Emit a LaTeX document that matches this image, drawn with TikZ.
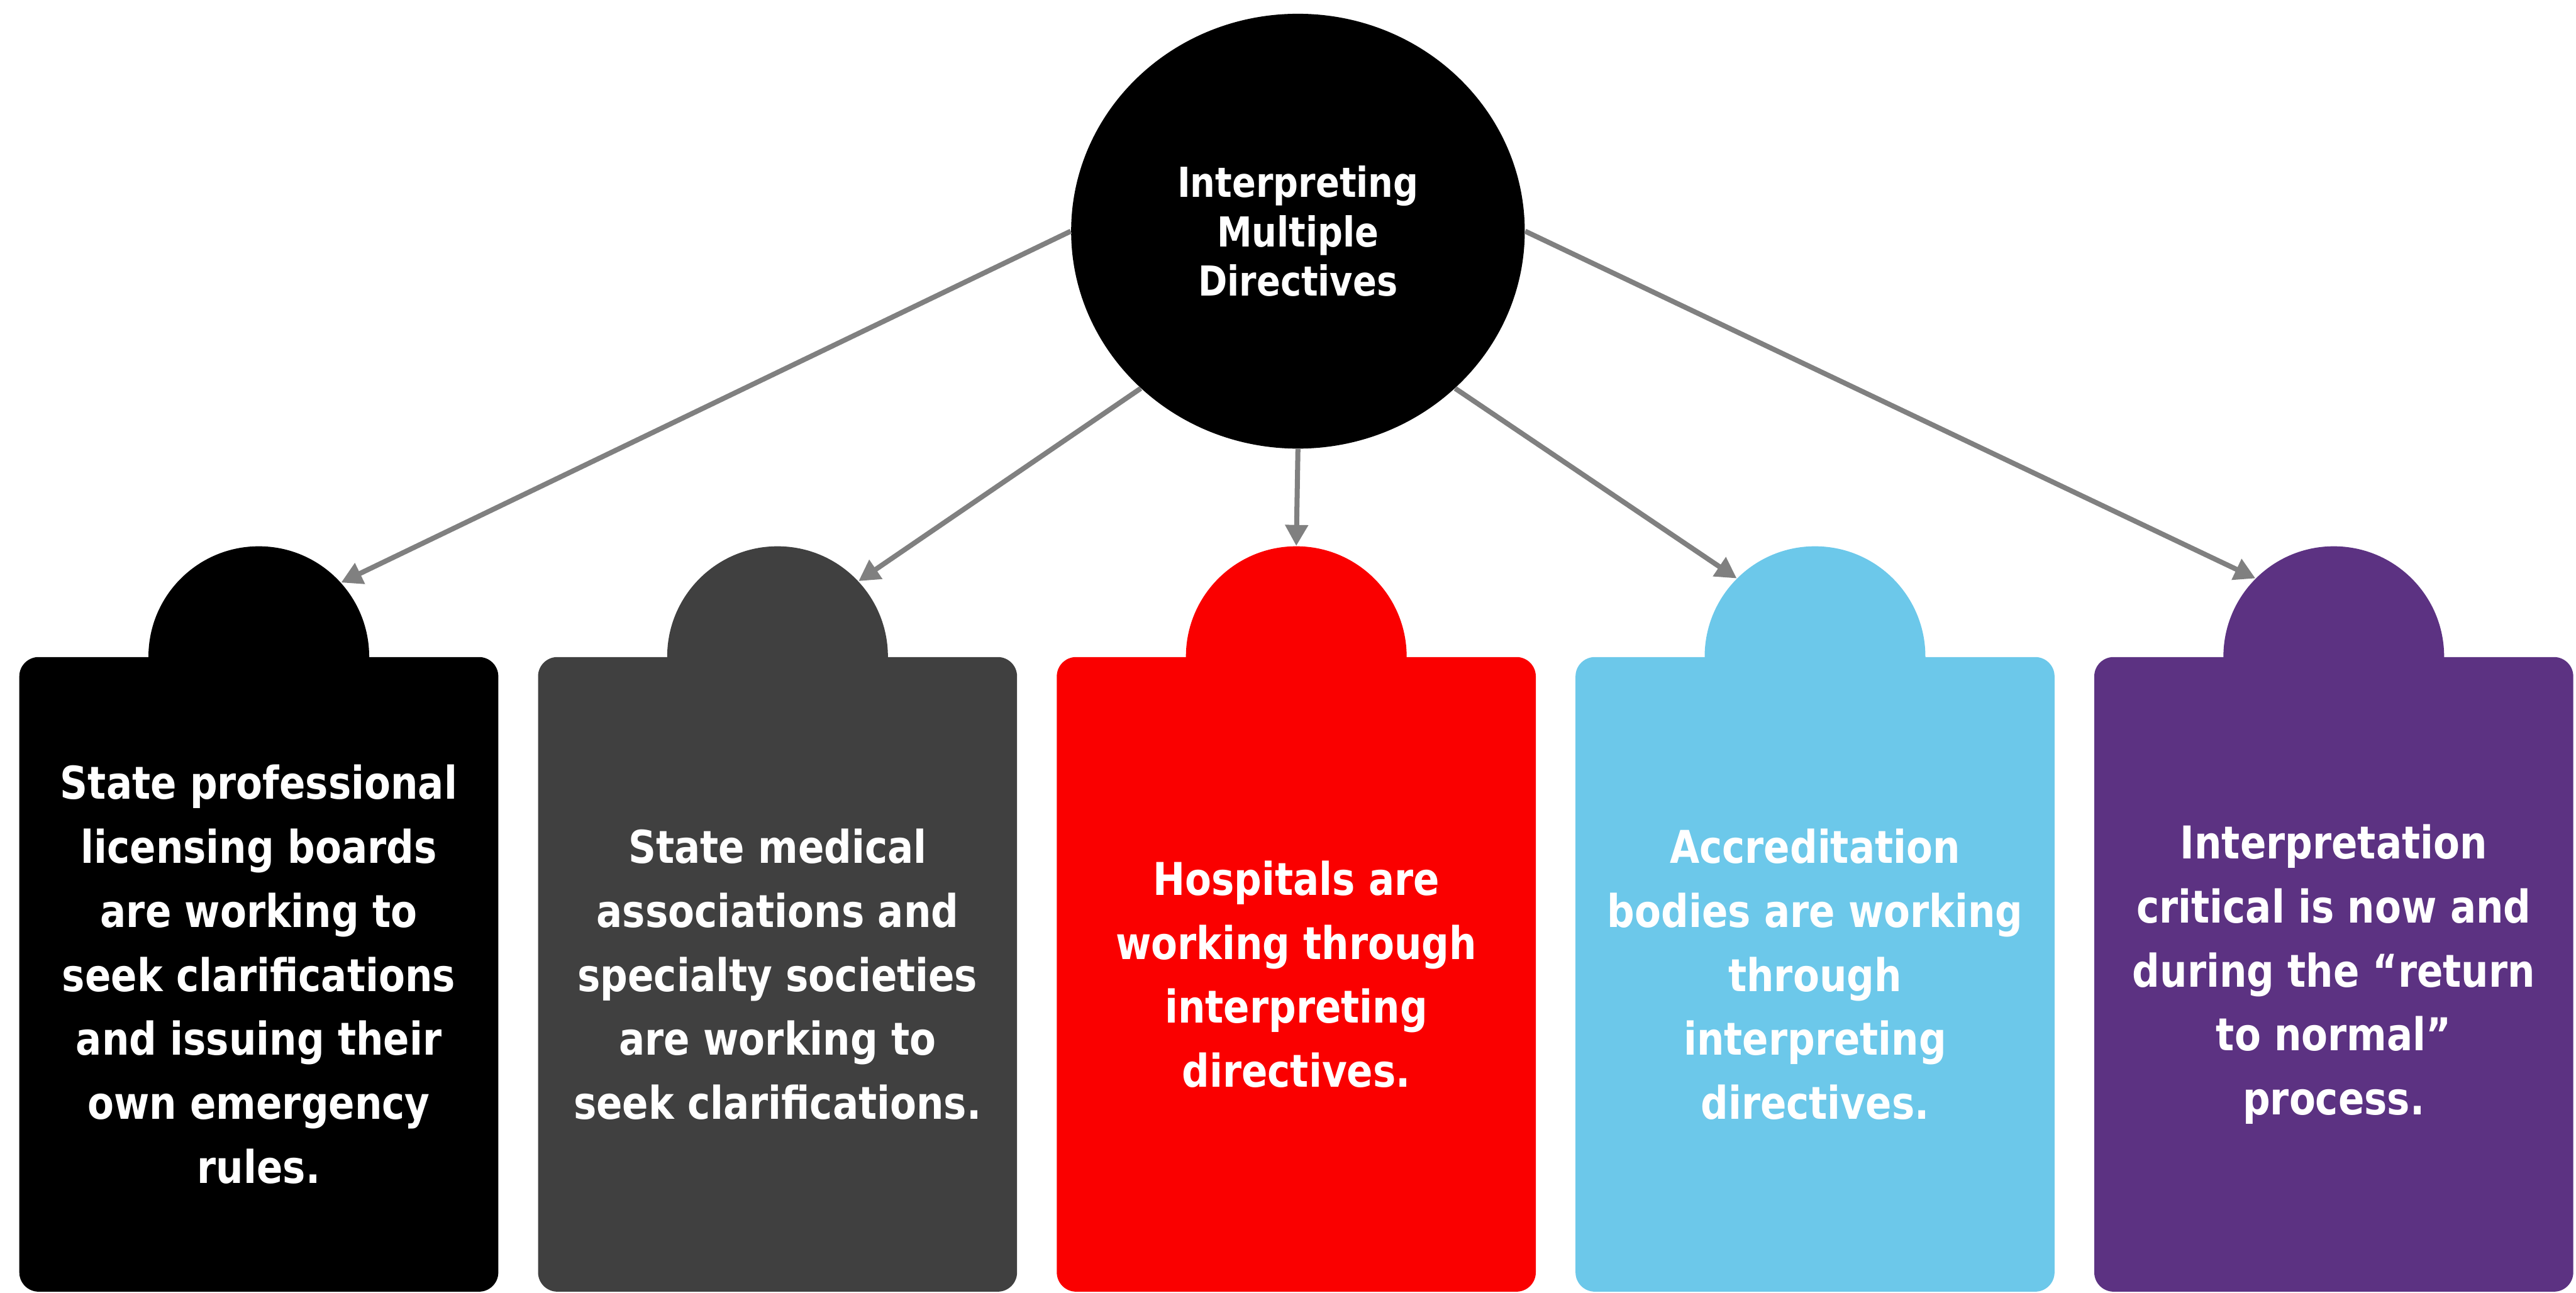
\documentclass[tikz,border=0pt]{standalone}
\usepackage{fontspec}
\setmainfont[FakeStretch=0.85]{DejaVu Sans}
\usetikzlibrary{positioning,shapes.geometric,arrows.meta}

\definecolor{cardgray}{RGB}{64,64,64}
\definecolor{cardred}{RGB}{250,0,0}
\definecolor{cardblue}{RGB}{108,200,234}
\definecolor{cardpurple}{RGB}{92,50,130}
\definecolor{linkgray}{RGB}{128,128,128}

\tikzset{
  hub/.style={ellipse, fill=black, text=white, minimum width=8.22cm, minimum height=7.88cm,
    inner sep=0pt, align=center, font=\fontsize{21.3}{25.5}\selectfont\bfseries},
  cardtab/.style={circle, minimum size=4cm, inner sep=0pt},
  card/.style={rectangle, rounded corners=0.35cm, minimum width=8.68cm, minimum height=11.5cm,
    inner sep=0pt, text=white, align=center, font=\fontsize{23.3}{33}\selectfont\bfseries},
  link/.style={draw=linkgray, line width=2.6pt, -{Triangle[length=0.38cm,width=0.4cm]}}
}

\begin{document}
\begin{tikzpicture}
\useasboundingbox (0,0) rectangle (46.68,23.42);
% centre circle
\node[hub] (hub) at (23.52,19.23) {Interpreting\\Multiple\\Directives};
% round tabs on top of the cards
\node[cardtab, fill=black] (tab1) at (4.69,11.52) {};
\node[cardtab, fill=cardgray] (tab2) at (14.09,11.52) {};
\node[cardtab, fill=cardred] (tab3) at (23.49,11.52) {};
\node[cardtab, fill=cardblue] (tab4) at (32.89,11.52) {};
\node[cardtab, fill=cardpurple] (tab5) at (42.29,11.52) {};
% cards
\node[card, fill=black, below=0cm of tab1.center] (card1)
  {State professional\\licensing boards\\are working to\\seek clarifications\\and issuing their\\own emergency\\rules.};
\node[card, fill=cardgray, below=0cm of tab2.center] (card2)
  {State medical\\associations and\\specialty societies\\are working to\\seek clarifications.};
\node[card, fill=cardred, below=0cm of tab3.center] (card3)
  {Hospitals are\\working through\\interpreting\\directives.};
\node[card, fill=cardblue, below=0cm of tab4.center] (card4)
  {Accreditation\\bodies are working\\through\\interpreting\\directives.};
\node[card, fill=cardpurple, below=0cm of tab5.center] (card5)
  {Interpretation\\critical is now and\\during the “return\\to normal”\\process.};
% arrows
\draw[link] (hub.west) -- (tab1.42);
\draw[link] (hub.225) -- (tab2.43);
\draw[link] (hub.south) -- (tab3.north);
\draw[link] (hub.-45) -- (tab4.135);
\draw[link] (hub.east) -- (tab5.135);
\end{tikzpicture}
\end{document}
